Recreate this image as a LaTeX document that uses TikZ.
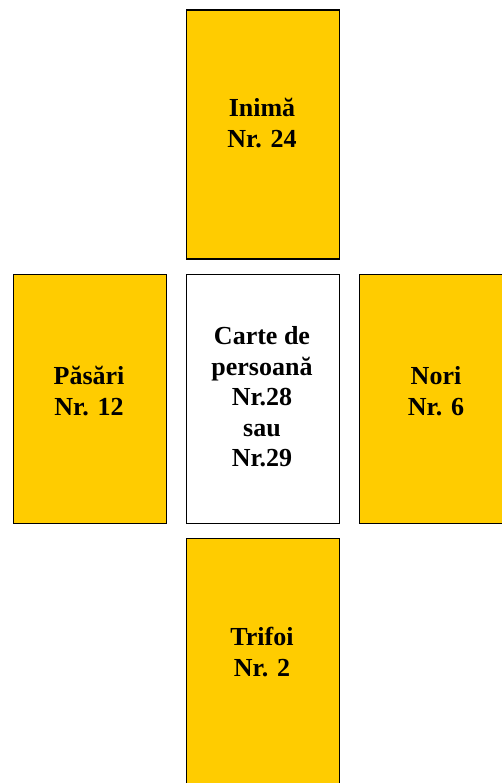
\documentclass[tikz,border=0pt]{standalone}
\usepackage{fontspec}
\setmainfont{Liberation Serif}
\definecolor{card}{HTML}{FFCC00}
\begin{document}
\begin{tikzpicture}[x=1pt,y=-1pt,
  cardbox/.style={draw=black,line width=1.8pt,fill=card,inner sep=0pt,anchor=north west},
  whitebox/.style={draw=black,line width=1.8pt,fill=white,inner sep=0pt,anchor=north west},
  cardtext/.style={align=center,font=\fontsize{26}{30.5}\selectfont\bfseries,inner sep=0pt}]
\useasboundingbox (0,0) rectangle (501,783);
\node[cardbox,minimum width=153pt,minimum height=249pt] (top) at (185.5,9.5) {};
\node[cardbox,minimum width=153pt,minimum height=249pt] (left) at (12.5,273.5) {};
\node[whitebox,minimum width=153pt,minimum height=249pt] (center) at (185.5,273.5) {};
\node[cardbox,minimum width=170pt,minimum height=249pt] (right) at (358.5,273.5) {};
\node[cardbox,minimum width=153pt,minimum height=270pt] (bottom) at (185.5,537.5) {};
\node[cardtext] (ttop) at (262,123) {Inimă\\Nr. 24};
\node[cardtext] (tleft) at (89,391) {Păsări\\Nr. 12};
\node[cardtext] (tcenter) at (262,397) {Carte de\\persoană\\Nr.28\\sau\\Nr.29};
\node[cardtext] (tright) at (436,391) {Nori\\Nr. 6};
\node[cardtext] (tbottom) at (262,652) {Trifoi\\Nr. 2};
\end{tikzpicture}
\end{document}
